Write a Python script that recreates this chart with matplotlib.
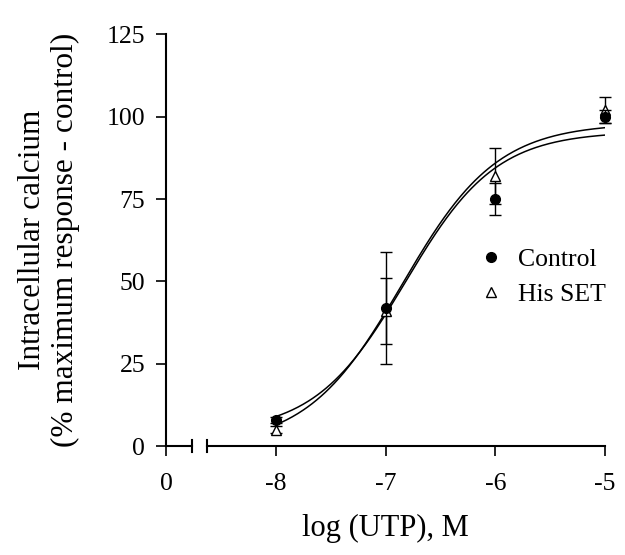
import matplotlib
matplotlib.use("Agg")
import matplotlib.pyplot as plt
import numpy as np

# data (log molar UTP, % maximum response - control)
log_utp = [-8, -7, -6, -5]
control_mean = [8, 42, 75, 100]
control_sem = [1, 17, 5, 2]
his_mean = [5, 41, 82, 102]
his_sem = [1, 10, 8.5, 4]

# sigmoidal dose-response fits: bottom, top, logEC50, hill slope
control_fit = (4, 95.5, -6.82, 1.05)
his_fit = (0, 98, -6.85, 1.0)

x_ticks = [-9, -8, -7, -6, -5]
x_ticklabels = ["0", "-8", "-7", "-6", "-5"]
y_ticks = [0, 25, 50, 75, 100, 125]


def sigmoid(x, bottom, top, logec50, hill):
    return bottom + (top - bottom) / (1 + 10 ** ((logec50 - x) * hill))


plt.rcParams["font.family"] = ["Liberation Serif", "DejaVu Serif"]

fig = plt.figure(figsize=(6.25, 5.55), dpi=100)
ax = fig.add_axes([0.2656, 0.196, 0.7024, 0.7424])

xs = np.linspace(-8, -5, 300)
ax.plot(xs, sigmoid(xs, *control_fit), color="black", lw=1.1)
ax.plot(xs, sigmoid(xs, *his_fit), color="black", lw=1.1)

ax.errorbar(log_utp, his_mean, yerr=his_sem, fmt="^", mfc="white", mec="black",
            color="black", ms=7, capsize=4.5, elinewidth=1, capthick=1,
            clip_on=False, label="His SET", zorder=3)
ax.errorbar(log_utp, control_mean, yerr=control_sem, fmt="o", color="black",
            ms=7, capsize=4.5, elinewidth=1, capthick=1, clip_on=False,
            label="Control", zorder=4)

ax.set_xlim(-9, -5)
ax.set_ylim(0, 125)
ax.set_xticks(x_ticks)
ax.set_xticklabels(x_ticklabels)
ax.set_yticks(y_ticks)
ax.tick_params(axis="both", direction="out", length=7, width=1.2,
               labelsize=18.5)
ax.tick_params(axis="x", pad=12)
ax.tick_params(axis="y", pad=8)

ax.spines["top"].set_visible(False)
ax.spines["right"].set_visible(False)
ax.spines["bottom"].set_visible(False)
ax.spines["left"].set_linewidth(1.5)

# broken x axis
tr = ax.get_xaxis_transform()
ax.plot([-9, -8.76], [0, 0], color="black", lw=1.5, transform=tr, clip_on=False)
ax.plot([-8.63, -5], [0, 0], color="black", lw=1.5, transform=tr, clip_on=False)
for xb in (-8.76, -8.63):
    ax.plot([xb, xb], [-0.014, 0.014], color="black", lw=1.5, transform=tr,
            clip_on=False)

ax.set_xlabel("log (UTP), M", fontsize=22, labelpad=14)
ax.set_ylabel("Intracellular calcium\n(% maximum response - control)",
              fontsize=22.5, labelpad=19, linespacing=1.2)

handles, labels = ax.get_legend_handles_labels()
handles = [h[0] for h in handles][::-1]
labels = labels[::-1]
ax.legend(handles, labels, loc="center left", bbox_to_anchor=(0.705, 0.411),
          frameon=False, fontsize=18.5, handlelength=1.2, handletextpad=0.47,
          labelspacing=0.44, borderaxespad=0, borderpad=0)

fig.savefig("out.png", dpi=100)
